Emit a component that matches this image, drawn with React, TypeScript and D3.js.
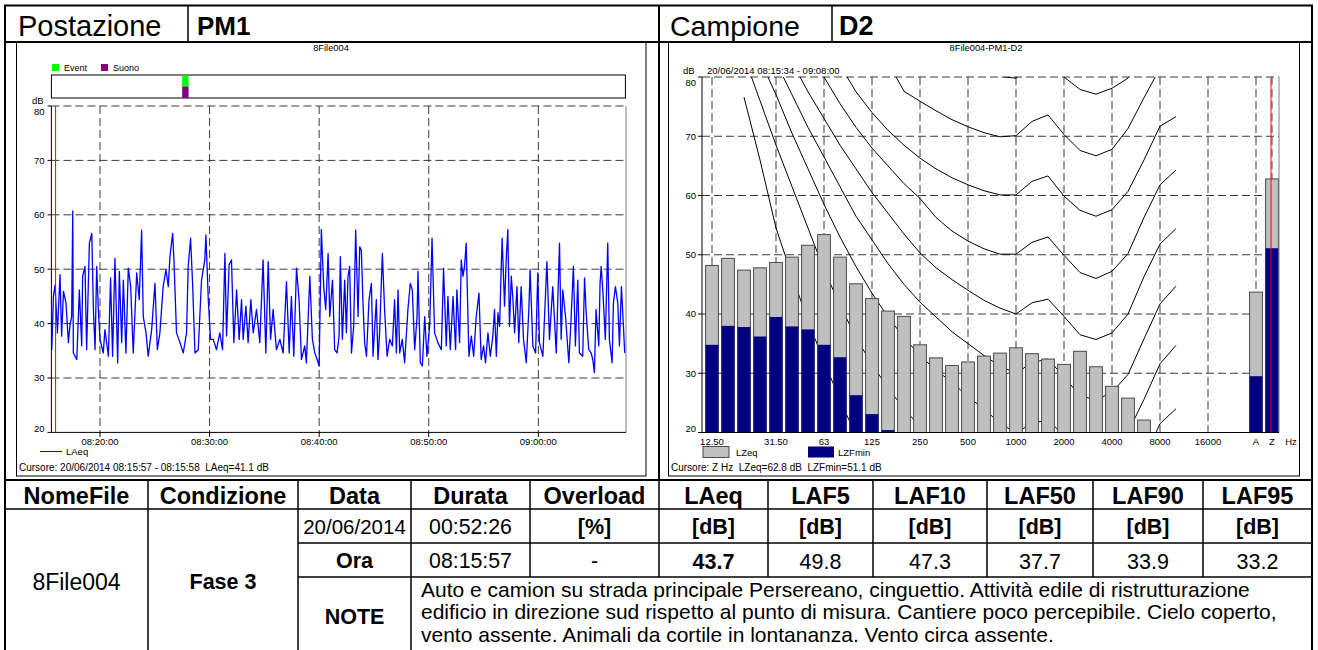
import React from 'react';
import * as d3 from 'd3';

const FONT = "'Liberation Sans', Arial, sans-serif";

// ---------- header / table ----------
const stationLabel = 'Postazione';
const stationName = 'PM1';
const sampleLabel = 'Campione';
const sampleName = 'D2';
const tableHeaders = ['NomeFile', 'Condizione', 'Data', 'Durata', 'Overload', 'LAeq', 'LAF5', 'LAF10', 'LAF50', 'LAF90', 'LAF95'];
const fileName = '8File004';
const condition = 'Fase 3';
const measureDate = '20/06/2014';
const measureTime = '08:15:57';
const duration = '00:52:26';
const overloadValue = '-';
const levelValues = ['43.7', '49.8', '47.3', '37.7', '33.9', '33.2'];
const noteLines = [
  'Auto e camion su strada principale Persereano, cinguettio. Attività edile di ristrutturazione',
  'edificio in direzione sud rispetto al punto di misura. Cantiere poco percepibile. Cielo coperto,',
  'vento assente. Animali da cortile in lontananza. Vento circa assente.',
];

// ---------- time history ----------
const historyDay = '2014-06-20T';
const historyStart = '08:15:34';
const historyEnd = '09:08:00';
const cursorTime = '08:15:57';
const eventSpan = ['08:27:30', '08:28:05'];
const dbTicks = [20, 30, 40, 50, 60, 70, 80];
// [seconds after start, LAeq dB]
const laeqHistory: [number, number][] = [
  [2, 35.2], [11, 45.0], [20, 47.1], [33, 38.3], [47, 49.0], [56, 37.7], [66, 45.9], [80, 43.8], [93, 36.5], [102, 39.8],
  [111, 41.3], [117, 60.7], [120, 34.6], [139, 33.4], [153, 46.2], [166, 35.9], [171, 48.7], [184, 50.5], [193, 35.2], [208, 54.8],
  [221, 56.6], [230, 42.6], [239, 35.2], [248, 50.5], [257, 42.6], [266, 37.1], [284, 34.6], [293, 38.9], [312, 34.0], [324, 48.4],
  [335, 34.0], [348, 52.0], [363, 32.8], [372, 49.6], [385, 36.5], [394, 48.0], [408, 34.6], [421, 50.2], [434, 46.8], [448, 34.6],
  [467, 49.3], [481, 44.4], [494, 57.2], [503, 41.3], [518, 38.3], [530, 34.0], [549, 38.9], [567, 47.4], [580, 35.2], [594, 38.3],
  [612, 46.8], [627, 49.9], [640, 46.8], [649, 52.3], [664, 56.6], [671, 51.7], [685, 38.3], [704, 36.5], [722, 34.6], [740, 38.3],
  [749, 50.5], [762, 55.7], [773, 47.4], [786, 34.6], [804, 35.2], [822, 48.0], [840, 51.7], [846, 56.3], [859, 44.4], [871, 37.1],
  [886, 37.1], [904, 35.2], [922, 38.3], [937, 35.2], [950, 52.9], [959, 37.7], [973, 50.8], [986, 51.7], [999, 36.5], [1014, 46.2],
  [1028, 37.1], [1041, 44.4], [1050, 37.1], [1065, 43.2], [1077, 36.5], [1092, 44.4], [1105, 38.3], [1123, 42.6], [1141, 36.5], [1159, 51.7],
  [1174, 34.6], [1187, 51.4], [1200, 37.1], [1214, 42.6], [1232, 35.2], [1251, 37.1], [1269, 34.6], [1287, 47.7], [1302, 34.6], [1314, 45.0],
  [1327, 34.0], [1342, 50.2], [1356, 44.4], [1369, 33.4], [1387, 35.9], [1396, 32.8], [1415, 48.7], [1429, 37.1], [1442, 34.6], [1455, 33.4],
  [1466, 32.2], [1478, 57.3], [1491, 46.8], [1502, 42.6], [1515, 52.9], [1524, 41.3], [1539, 48.0], [1551, 35.2], [1564, 34.6], [1575, 37.7],
  [1582, 52.3], [1593, 37.1], [1606, 48.0], [1615, 38.3], [1624, 48.7], [1633, 50.5], [1643, 34.6], [1655, 39.5], [1666, 57.2], [1679, 41.3],
  [1688, 54.1], [1697, 53.5], [1706, 43.8], [1715, 36.5], [1725, 34.0], [1739, 44.4], [1752, 47.4], [1761, 34.0], [1779, 44.4], [1788, 33.4],
  [1797, 38.3], [1812, 52.9], [1825, 42.0], [1838, 34.0], [1852, 37.1], [1867, 35.9], [1879, 44.4], [1889, 34.6], [1898, 46.2], [1907, 34.6],
  [1921, 37.1], [1934, 32.8], [1952, 42.6], [1965, 47.4], [1976, 46.2], [1989, 35.2], [2002, 41.3], [2007, 49.6], [2020, 32.8], [2031, 32.2],
  [2044, 41.3], [2056, 34.0], [2071, 39.5], [2084, 55.7], [2098, 38.3], [2116, 36.5], [2135, 35.2], [2147, 50.2], [2162, 35.9], [2171, 45.0],
  [2184, 35.2], [2199, 45.0], [2213, 35.2], [2220, 46.2], [2235, 36.5], [2244, 51.7], [2253, 48.7], [2262, 50.5], [2271, 54.8], [2286, 34.0],
  [2299, 37.7], [2312, 34.0], [2326, 41.3], [2341, 45.6], [2353, 33.4], [2366, 35.9], [2377, 32.8], [2390, 38.3], [2403, 34.0], [2417, 37.7],
  [2426, 42.6], [2436, 34.0], [2445, 42.0], [2454, 39.5], [2463, 50.5], [2468, 55.7], [2481, 43.2], [2490, 51.7], [2499, 57.3], [2508, 39.5],
  [2518, 48.7], [2527, 44.4], [2536, 38.3], [2549, 46.8], [2559, 36.5], [2572, 46.8], [2585, 37.1], [2600, 32.8], [2614, 42.6], [2621, 49.9],
  [2636, 35.9], [2651, 34.6], [2663, 49.3], [2672, 36.5], [2691, 34.0], [2700, 41.3], [2713, 51.4], [2727, 37.1], [2745, 46.8], [2764, 34.6],
  [2782, 54.8], [2791, 37.1], [2800, 46.2], [2815, 41.3], [2833, 32.8], [2846, 41.3], [2858, 50.5], [2869, 35.9], [2882, 48.0], [2891, 34.6],
  [2909, 34.0], [2919, 48.4], [2928, 42.0], [2942, 35.2], [2955, 34.6], [2964, 33.4], [2973, 31.0], [2982, 42.6], [2997, 35.9], [3004, 47.4],
  [3010, 50.5], [3019, 46.2], [3033, 37.1], [3046, 54.8], [3055, 37.1], [3070, 32.8], [3077, 43.8], [3088, 46.8], [3101, 43.8], [3110, 35.9],
  [3121, 46.8], [3132, 39.5], [3139, 34.6],
];

// ---------- spectrum ----------
const bands = ['12.5', '16', '20', '25', '31.5', '40', '50', '63', '80', '100', '125', '160', '200', '250', '315', '400', '500',
  '630', '800', '1000', '1250', '1600', '2000', '2500', '3150', '4000', '5000', '6300', '8000', '10000', '12500', '16000', '20000',
  'gap', 'A', 'Z'];
const bandTicks = ['12.5', '31.5', '63', '125', '250', '500', '1000', '2000', '4000', '8000', '16000', 'A', 'Z'];
const bandTickLabels = ['12.50', '31.50', '63', '125', '250', '500', '1000', '2000', '4000', '8000', '16000', 'A', 'Z'];
// 12.5 Hz ... 6300 Hz (higher bands are below the 20 dB floor)
const lzeq = [48.2, 49.4, 47.4, 47.8, 48.7, 49.6, 51.6, 53.4, 49.6, 45.1, 42.6, 40.5, 39.6, 34.8, 32.6, 31.3, 31.9, 32.9, 33.4,
  34.3, 33.3, 32.4, 31.5, 33.7, 31.1, 27.8, 25.8, 22.1];
// 12.5 Hz ... 160 Hz
const lzfmin = [34.8, 38.0, 37.8, 36.2, 39.5, 37.9, 37.4, 34.8, 32.7, 26.3, 23.1, 20.4];
const broadbandBands = ['A', 'Z'];
const broadbandLzeq = [43.7, 62.8];
const broadbandLzfmin = [29.5, 51.1];

// equal loudness contours, 20 Hz ... 10 kHz
const contourBands = bands.slice(2, 30);
const N = null;
const phonMaf = [76.6, 66, 54.5, 46.5, 38.8, 32, 25.5, 19.5, 14];
const phon10 = [83.5, 76, 68.5, 61.5, 54.5, 47.5, 41.5, 36, 31.5, 27.5, 24, 21, 18.5, 16, 14, 12.5, 11, 10, 11.5, 12.2, 9.3, 6, 5.5, 6.5, 10, 15.5, 21.5, 24];
const phon20 = [N, 83, 77, 70.5, 64.5, 58.5, 53, 48, 43.5, 39.5, 36, 33, 30.5, 28.5, 26, 24, 21.5, 20, 21.5, 22.2, 19.4, 16, 15.3, 16.5, 20, 25.6, 31.6, 34.7];
const phon30 = [N, N, 82.5, 77, 71.5, 66.5, 61.5, 56.5, 52.5, 48.5, 45, 42, 39.5, 37, 35, 33, 31.2, 30, 31.8, 32.4, 29.4, 26.2, 25.5, 26.8, 29.8, 35.8, 41.7, 44.7];
const phon40 = [N, N, N, 82.5, 77.5, 73, 68.5, 64.5, 60.5, 57, 53.5, 50.3, 47.8, 45.8, 44, 42.3, 41, 40, 41.9, 42.5, 39.6, 36.5, 35.7, 36.8, 40, 46.3, 51.8, 54.4];
const phon50 = [N, N, N, N, 85, 80, 75.5, 71.5, 68, 65, 62, 59.5, 56.3, 54, 52.3, 51, 50.1, 50.1, 52.1, 53, 49.9, 47, 46, 47.2, 50.2, 56.3, 61.8, 64.3];
const phon60 = [N, N, N, N, N, N, 82, 77.5, 74, 71, 68.5, 66.3, 64.5, 63, 61.8, 60.8, 60.1, 60.1, 62.4, 63.3, 59.9, 57.5, 56.5, 57.6, 60.7, 66, 71.7, 73.3];
const phon70 = [N, N, N, N, N, N, N, N, N, 82.4, 77.6, 75.9, 74.3, 72.8, 71.6, 70.6, 69.9, 70.1, 72.5, 73.6, 70.3, 67.6, 66.7, 67.8, 71.3, 76.5, 81.5, N];
const phon80 = [N, N, N, N, N, N, N, N, N, N, N, N, N, N, 82, 80.8, 80.1, 79.8, 82, 83, 80, 77.9, 77.1, 78.1, 79.8, 85, N, N];
const contours = [phonMaf, phon10, phon20, phon30, phon40, phon50, phon60, phon70, phon80];

const toDate = (hms: string) => new Date(historyDay + hms);

export default function App() {
  // ----- left: time history -----
  const t0 = toDate(historyStart);
  const xT = d3.scaleTime().domain([t0, toDate(historyEnd)]).range([51.4, 626]);
  const yL = d3.scaleLinear().domain([20, 80]).range([432.4, 106]);
  const timeTicks = xT.ticks(d3.timeMinute.every(10) as any);
  const fmt = d3.timeFormat('%H:%M:%S');
  const laeqPath = d3.line<[number, number]>()
    .x(d => xT(new Date(t0.getTime() + d[0] * 1000)))
    .y(d => yL(d[1]))(laeqHistory) || '';
  const cursorX = xT(toDate(cursorTime));
  const evX0 = xT(toDate(eventSpan[0]));
  const evX1 = xT(toDate(eventSpan[1]));

  // ----- right: spectrum -----
  const xB = d3.scalePoint<string>().domain(bands).range([712, 1272]);
  const yR = d3.scaleLinear().domain([20, 80]).range([432.5, 77]);
  const barW = 12.8;
  const contourLine = d3.line<number | null>()
    .defined(v => v != null)
    .x((_, i) => xB(contourBands[i]) as number)
    .y(v => yR(v as number));

  const dash = { stroke: '#3a3a3a', strokeWidth: 1, strokeDasharray: '8 4' };
  const small = 9.5;
  const pre = { whiteSpace: 'pre' as const };

  const labelY = (y: number, top: number, bottom: number) => Math.min(Math.max(y, top + 6), bottom - 4);

  const colX = [5, 148, 298, 411, 530, 659, 768, 873, 987, 1093, 1203, 1312];
  const rowY = [480, 509, 543, 577, 655];
  const mid = (i: number) => (colX[i] + colX[i + 1]) / 2;

  return (
    <svg width={1318} height={650} style={{ position: 'absolute', left: 0, top: 0 }} fontFamily={FONT}>
      <rect width={1318} height={650} fill="#fff" />
      <defs>
        <clipPath id="clipL"><rect x={51.4} y={106} width={574.6} height={326.4} /></clipPath>
        <clipPath id="clipR"><rect x={702} y={77} width={577} height={355.5} /></clipPath>
      </defs>

      {/* header row */}
      <text x={18} y={36} fontSize={29}>{stationLabel}</text>
      <text x={197} y={35} fontSize={26} fontWeight="bold">{stationName}</text>
      <text x={670} y={36} fontSize={28.5}>{sampleLabel}</text>
      <text x={839} y={35} fontSize={27} fontWeight="bold">{sampleName}</text>

      {/* ===== left chart ===== */}
      <rect x={16.5} y={42} width={629.5} height={434} fill="none" stroke="#000" strokeWidth={1} />
      <text x={331} y={51} fontSize={9.3} textAnchor="middle">{fileName}</text>
      <rect x={52} y={64} width={7} height={7} fill="#00ff00" />
      <text x={64} y={71} fontSize={9}>Event</text>
      <rect x={101} y={64} width={7} height={7} fill="#800080" />
      <text x={113} y={71} fontSize={9}>Suono</text>
      <rect x={51.4} y={75} width={574} height={23} fill="#fff" stroke="#000" strokeWidth={1} />
      <rect x={evX0} y={75.5} width={evX1 - evX0} height={11} fill="#00ff00" />
      <rect x={evX0} y={86.5} width={evX1 - evX0} height={11.5} fill="#800080" />

      {dbTicks.filter(v => v > 20).map(v => (
        <line key={'gl' + v} x1={51.4} x2={626} y1={yL(v)} y2={yL(v)} {...dash} />
      ))}
      {timeTicks.map((d, i) => (
        <g key={'tt' + i}>
          <line x1={xT(d)} x2={xT(d)} y1={106} y2={432.4} {...dash} />
          <line x1={xT(d)} x2={xT(d)} y1={432.4} y2={437} stroke="#000" />
          <text x={xT(d)} y={444.5} fontSize={small} textAnchor="middle">{fmt(d)}</text>
        </g>
      ))}
      {dbTicks.map(v => (
        <g key={'yl' + v}>
          <line x1={47.5} x2={51.4} y1={yL(v)} y2={yL(v)} stroke="#000" />
          <text x={44.5} y={labelY(yL(v), 106, 432.4) + 3.4} fontSize={small} textAnchor="end">{v}</text>
        </g>
      ))}
      <text x={32} y={104} fontSize={small}>dB</text>

      <g clipPath="url(#clipL)">
        <path d={laeqPath} fill="none" stroke="#0000ff" strokeWidth={1.3} strokeLinejoin="round" />
      </g>
      <line x1={626} x2={626} y1={106} y2={432.4} stroke="#808080" />
      <line x1={51.4} x2={51.4} y1={106} y2={432.4} stroke="#000" />
      <line x1={51.4} x2={626} y1={432.4} y2={432.4} stroke="#000" />
      <line x1={cursorX} x2={cursorX} y1={106} y2={432.4} stroke="#ff0000" />

      <line x1={40} x2={62} y1={451.5} y2={451.5} stroke="#0000ff" />
      <text x={66} y={455} fontSize={small}>LAeq</text>
      <text x={19} y={471} fontSize={10} style={pre}>Cursore: 20/06/2014 08:15:57 - 08:15:58  LAeq=41.1 dB</text>

      {/* ===== right chart ===== */}
      <rect x={668.5} y={42} width={631} height={434} fill="none" stroke="#000" strokeWidth={1} />
      <text x={986} y={51} fontSize={9.3} textAnchor="middle">8File004-PM1-D2</text>
      <text x={683} y={74} fontSize={small}>dB</text>
      <text x={707} y={74} fontSize={small}>20/06/2014 08:15:34 - 09:08:00</text>

      {dbTicks.filter(v => v > 20).map(v => (
        <line key={'gr' + v} x1={702} x2={1279} y1={yR(v)} y2={yR(v)} {...dash} />
      ))}
      {bandTicks.map((b, i) => (
        <g key={'bt' + b}>
          <line x1={xB(b)} x2={xB(b)} y1={77} y2={432.5} {...dash} />
          <text x={xB(b)} y={444.5} fontSize={small} textAnchor="middle">{bandTickLabels[i]}</text>
        </g>
      ))}
      <text x={1291} y={444.5} fontSize={small} textAnchor="middle">Hz</text>
      {dbTicks.map(v => (
        <g key={'yr' + v}>
          <line x1={698} x2={702} y1={yR(v)} y2={yR(v)} stroke="#000" />
          <text x={696} y={labelY(yR(v), 77, 432.5) + 3.4} fontSize={small} textAnchor="end">{v}</text>
        </g>
      ))}

      <g clipPath="url(#clipR)">
        {contours.map((c, i) => (
          <path key={'c' + i} d={contourLine(c) || ''} fill="none" stroke="#000" strokeWidth={1} />
        ))}
      </g>

      {lzeq.map((v, i) => (
        <rect key={'eq' + i} x={(xB(bands[i]) as number) - barW / 2} y={yR(v)} width={barW} height={yR(20) - yR(v)}
          fill="#c0c0c0" stroke="#4a4a4a" strokeWidth={1} />
      ))}
      {lzfmin.map((v, i) => (
        <rect key={'mn' + i} x={(xB(bands[i]) as number) - barW / 2} y={yR(v)} width={barW} height={yR(20) - yR(v)}
          fill="#000080" />
      ))}
      {broadbandBands.map((b, i) => (
        <g key={'bb' + b}>
          <rect x={(xB(b) as number) - barW / 2} y={yR(broadbandLzeq[i])} width={barW} height={yR(20) - yR(broadbandLzeq[i])}
            fill="#c0c0c0" stroke="#4a4a4a" strokeWidth={1} />
          <rect x={(xB(b) as number) - barW / 2} y={yR(broadbandLzfmin[i])} width={barW} height={yR(20) - yR(broadbandLzfmin[i])}
            fill="#000080" />
        </g>
      ))}
      <line x1={702} x2={702} y1={77} y2={432.5} stroke="#000" />
      <line x1={1279} x2={1279} y1={77} y2={432.5} stroke="#808080" />
      <line x1={702} x2={1279} y1={432.5} y2={432.5} stroke="#000" />
      <line x1={(xB('Z') as number) - 1} x2={(xB('Z') as number) - 1} y1={77} y2={432.5} stroke="#ff0000" />

      <rect x={703} y={446.5} width={26} height={11} fill="#c0c0c0" stroke="#4a4a4a" />
      <text x={736} y={456} fontSize={small}>LZeq</text>
      <rect x={808} y={446.5} width={26} height={11} fill="#000080" />
      <text x={838} y={456} fontSize={small}>LZFmin</text>
      <text x={671} y={471} fontSize={10} style={pre}>Cursore: Z Hz  LZeq=62.8 dB  LZFmin=51.1 dB</text>

      {/* ===== frame lines ===== */}
      <g stroke="#000" fill="none">
        <rect x={5} y={5.5} width={1307} height={660} strokeWidth={2} />
        <line x1={5} x2={1312} y1={42} y2={42} strokeWidth={2} />
        <line x1={188} x2={188} y1={5} y2={42} strokeWidth={1.5} />
        <line x1={832} x2={832} y1={5} y2={42} strokeWidth={1.5} />
        <line x1={659} x2={659} y1={5} y2={480} strokeWidth={2} />
        <line x1={5} x2={1312} y1={480} y2={480} strokeWidth={2} />
        <line x1={5} x2={1312} y1={rowY[1]} y2={rowY[1]} strokeWidth={1.5} />
        <line x1={colX[2]} x2={1312} y1={rowY[2]} y2={rowY[2]} strokeWidth={1.5} />
        <line x1={colX[2]} x2={1312} y1={rowY[3]} y2={rowY[3]} strokeWidth={1.5} />
        {colX.slice(1, -1).map((x, i) => (
          <line key={'cx' + i} x1={x} x2={x} y1={rowY[0]} y2={i + 1 <= 3 ? 660 : rowY[3]} strokeWidth={1.5} />
        ))}
      </g>

      {/* ===== table text ===== */}
      {tableHeaders.map((h, i) => (
        <text key={'th' + h} x={mid(i)} y={503.5} fontSize={23.5} fontWeight="bold" textAnchor="middle">{h}</text>
      ))}
      <text x={mid(0)} y={590} fontSize={23} textAnchor="middle">{fileName}</text>
      <text x={mid(1)} y={589} fontSize={21.5} fontWeight="bold" textAnchor="middle">{condition}</text>
      <text x={mid(2)} y={533.5} fontSize={20.5} textAnchor="middle">{measureDate}</text>
      <text x={mid(2)} y={567.5} fontSize={21.5} fontWeight="bold" textAnchor="middle">Ora</text>
      <text x={mid(2)} y={624} fontSize={21.5} fontWeight="bold" textAnchor="middle">NOTE</text>
      <text x={mid(3)} y={533.5} fontSize={21.3} textAnchor="middle">{duration}</text>
      <text x={mid(3)} y={567.5} fontSize={21.3} textAnchor="middle">{measureTime}</text>
      <text x={mid(4)} y={534} fontSize={21.5} fontWeight="bold" textAnchor="middle">[%]</text>
      <text x={mid(4)} y={568} fontSize={21.5} textAnchor="middle">{overloadValue}</text>
      {levelValues.map((v, i) => (
        <g key={'lv' + i}>
          <text x={mid(5 + i)} y={534} fontSize={21.5} fontWeight="bold" textAnchor="middle">[dB]</text>
          <text x={mid(5 + i)} y={568.5} fontSize={21.5} fontWeight={i === 0 ? 'bold' : 'normal'} textAnchor="middle">{v}</text>
        </g>
      ))}
      {noteLines.map((l, i) => (
        <text key={'nl' + i} x={421} y={596.5 + i * 22.5} fontSize={21}>{l}</text>
      ))}
    </svg>
  );
}
